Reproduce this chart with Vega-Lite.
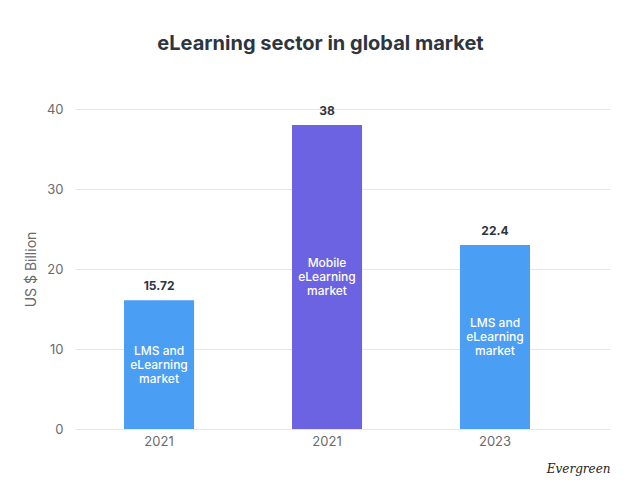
{
  "$schema": "https://vega.github.io/schema/vega-lite/v6.json",
  "width": 535,
  "height": 320,
  "autosize": {"type": "none"},
  "padding": {"left": 75, "top": 109, "right": 30, "bottom": 71},
  "background": "white",
  "config": {"font": "Inter", "view": {"stroke": null}},
  "title": {
    "text": "eLearning sector in global market",
    "fontSize": 20,
    "fontWeight": "bold",
    "color": "#2d3540",
    "anchor": "middle",
    "offset": 49,
    "dx": -22
  },
  "data": {
    "values": [
      {"slot": "a", "year": "2021", "segment": "LMS and eLearning market", "value": 16.1, "label": "15.72", "inner": ["LMS and", "eLearning", "market"]},
      {"slot": "b", "year": "2021", "segment": "Mobile eLearning market", "value": 38, "label": "38", "inner": ["Mobile", "eLearning", "market"]},
      {"slot": "c", "year": "2023", "segment": "LMS and eLearning market", "value": 23, "label": "22.4", "inner": ["LMS and", "eLearning", "market"]}
    ]
  },
  "encoding": {
    "x": {
      "field": "slot",
      "type": "nominal",
      "scale": {"paddingInner": 0.583, "paddingOuter": 0.384, "align": 0.38},
      "axis": {
        "labelExpr": "datum.value == 'c' ? '2023' : '2021'",
        "labelAngle": 0,
        "labelFontSize": 13,
        "labelColor": "#6b6b6b",
        "labelPadding": 6,
        "ticks": false,
        "domain": false,
        "title": "Evergreen",
        "titleFont": "DejaVu Serif",
        "titleFontStyle": "italic",
        "titleFontWeight": "normal",
        "titleFontSize": 12,
        "titleColor": "#222222",
        "titleAnchor": "end",
        "titlePadding": 15
      }
    }
  },
  "layer": [
    {
      "mark": {"type": "bar"},
      "encoding": {
        "y": {
          "field": "value",
          "type": "quantitative",
          "scale": {"domain": [0, 40]},
          "axis": {
            "values": [0, 10, 20, 30, 40],
            "title": "US $ Billion",
            "titleFontSize": 14,
            "titleFontWeight": "normal",
            "titleColor": "#6b6b6b",
            "titlePadding": 8,
            "labelFontSize": 13,
            "labelColor": "#6b6b6b",
            "labelPadding": 12,
            "ticks": false,
            "domain": false,
            "gridColor": "#e6e6e6",
            "gridWidth": 1
          }
        },
        "color": {
          "field": "segment",
          "type": "nominal",
          "scale": {"domain": ["LMS and eLearning market", "Mobile eLearning market"], "range": ["#4a9ef4", "#6c63e2"]},
          "legend": null
        }
      }
    },
    {
      "mark": {"type": "text", "baseline": "bottom", "dy": -7, "fontWeight": "bold", "fontSize": 12, "color": "#2d3540"},
      "encoding": {
        "y": {"field": "value", "type": "quantitative"},
        "text": {"field": "label"}
      }
    },
    {
      "transform": [{"calculate": "datum.value / 2", "as": "mid"}],
      "mark": {"type": "text", "baseline": "middle", "dy": -14, "fontSize": 12, "lineHeight": 14, "color": "white", "fontWeight": 500},
      "encoding": {
        "y": {"field": "mid", "type": "quantitative"},
        "text": {"field": "inner"}
      }
    }
  ]
}
